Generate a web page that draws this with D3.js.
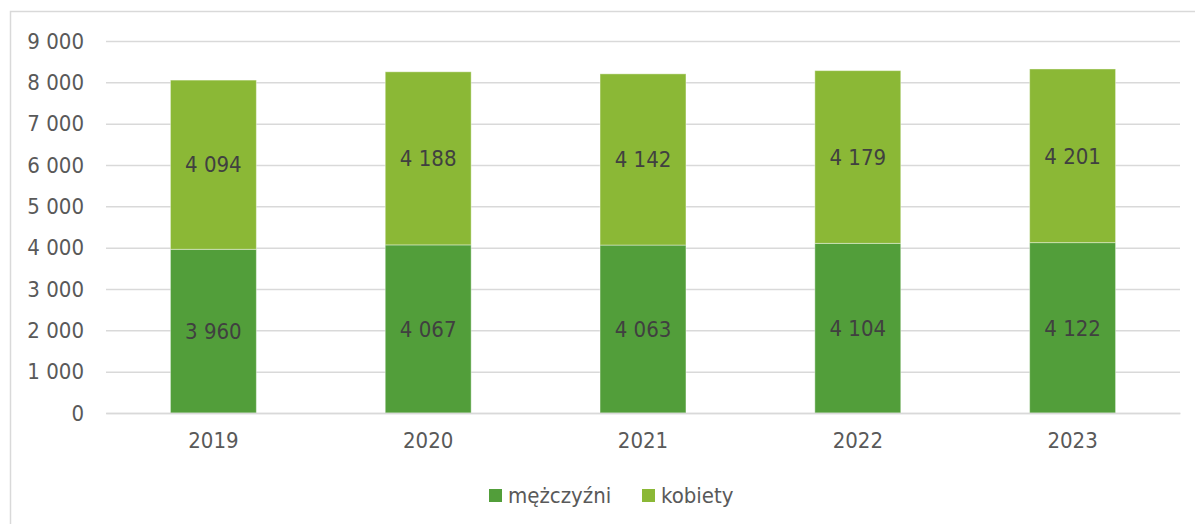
<!DOCTYPE html>
<html>
<head>
<meta charset="utf-8">
<script src="https://cdn.jsdelivr.net/npm/d3@7"></script>
<style>
  body { margin: 0; background: #fff; }
  svg { display: block; font-family: "DejaVu Sans Condensed", "DejaVu Sans", sans-serif; }
</style>
</head>
<body>
<div id="vis"></div>
<script>
// chart data
const YEARS = ["2019", "2020", "2021", "2022", "2023"];
const MEN = [3960, 4067, 4063, 4104, 4122];
const WOMEN = [4094, 4188, 4142, 4179, 4201];
const SERIES_NAMES = ["mężczyźni", "kobiety"];
const Y_TICKS = [0, 1000, 2000, 3000, 4000, 5000, 6000, 7000, 8000, 9000];

const COLORS = ["#529e3a", "#8bb836"];
const FRAME_WIDTH = 1195;
const FRAME_HEIGHT = 524;
const PLOT = {left: 106, right: 1180, top: 41, bottom: 413};
const FONT = "22px";

const fmt = (v) => d3.format(",")(v).replace(/,/g, " ");

const X_SCALE = d3.scaleBand()
    .domain(YEARS)
    .range([PLOT.left, PLOT.right])
    .paddingInner(0.6)
    .paddingOuter(0.3);
const Y_SCALE = d3.scaleLinear()
    .domain([0, 9000])
    .range([PLOT.bottom, PLOT.top]);

const svg = d3.select("#vis").append("svg")
    .attr("width", FRAME_WIDTH)
    .attr("height", FRAME_HEIGHT);

// outer border of the chart area
svg.append("rect")
    .attr("x", 10.5).attr("y", 11.5)
    .attr("width", FRAME_WIDTH + 20).attr("height", FRAME_HEIGHT + 20)
    .attr("fill", "none")
    .attr("stroke", "#d9d9d9")
    .attr("stroke-width", 1.5);

// grid lines and y labels
const yAxis = svg.append("g")
    .attr("transform", "translate(" + PLOT.left + ",0)")
    .call(d3.axisLeft(Y_SCALE).tickValues(Y_TICKS).tickFormat(fmt)
        .tickSize(-(PLOT.right - PLOT.left)).tickPadding(22));
yAxis.select(".domain").remove();
yAxis.selectAll(".tick line").attr("stroke", "#d9d9d9").attr("stroke-width", 1.5);
yAxis.selectAll(".tick text")
    .attr("fill", "#595959")
    .attr("font-size", FONT)
    .attr("font-family", "\"DejaVu Sans Condensed\", \"DejaVu Sans\", sans-serif");

// stacked data
const rows = YEARS.map((y, i) => ({year: y, m: MEN[i], k: WOMEN[i]}));
const stacked = d3.stack().keys(["m", "k"])(rows);

const layers = svg.selectAll(".layer")
    .data(stacked)
    .enter()
    .append("g")
    .attr("fill", (d, i) => COLORS[i]);

layers.selectAll("rect")
    .data((d) => d)
    .enter()
    .append("rect")
    .attr("x", (d) => X_SCALE(d.data.year))
    .attr("y", (d) => Y_SCALE(d[1]))
    .attr("width", X_SCALE.bandwidth())
    .attr("height", (d) => Y_SCALE(d[0]) - Y_SCALE(d[1]))
    .attr("stroke", "#ffffff")
    .attr("stroke-opacity", 0.4)
    .attr("stroke-width", 1);

// value labels inside segments
layers.selectAll("text")
    .data((d) => d)
    .enter()
    .append("text")
    .attr("x", (d) => X_SCALE(d.data.year) + X_SCALE.bandwidth() / 2)
    .attr("y", (d) => (Y_SCALE(d[0]) + Y_SCALE(d[1])) / 2)
    .attr("dy", "0.35em")
    .attr("text-anchor", "middle")
    .attr("fill", "#404040")
    .attr("font-size", FONT)
    .text((d) => fmt(d[1] - d[0]));

// x labels
const xAxis = svg.append("g")
    .attr("transform", "translate(0," + PLOT.bottom + ")")
    .call(d3.axisBottom(X_SCALE).tickSize(0).tickPadding(19));
xAxis.select(".domain").attr("stroke", "#d9d9d9").attr("stroke-width", 1.5);
xAxis.selectAll(".tick text")
    .attr("fill", "#595959")
    .attr("font-size", FONT)
    .attr("font-family", "\"DejaVu Sans Condensed\", \"DejaVu Sans\", sans-serif");

// legend
const legendX = [489, 642];
const legend = svg.selectAll(".legend")
    .data(SERIES_NAMES)
    .enter()
    .append("g")
    .attr("transform", (d, i) => "translate(" + legendX[i] + ",489)");
legend.append("rect")
    .attr("width", 13).attr("height", 13)
    .attr("fill", (d, i) => COLORS[i]);
legend.append("text")
    .attr("x", 19).attr("y", 6.5)
    .attr("dy", "0.35em")
    .attr("fill", "#595959")
    .attr("font-size", FONT)
    .text((d) => d);
</script>
</body>
</html>
